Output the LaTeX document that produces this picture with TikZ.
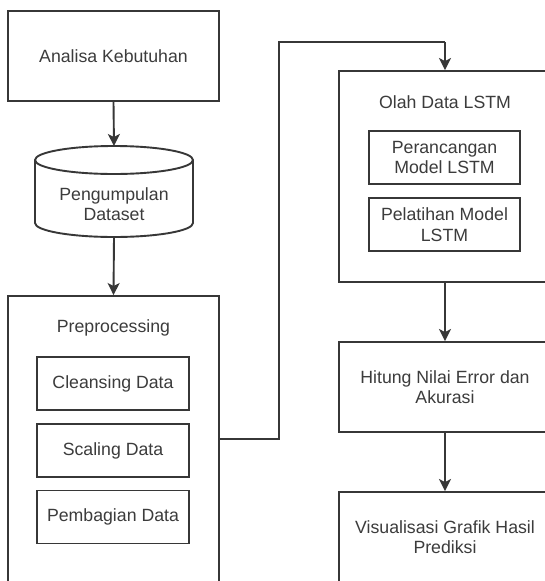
\documentclass[tikz,border=0pt]{standalone}
\usepackage{fontspec}
\setmainfont{Liberation Sans}
\usetikzlibrary{arrows.meta,calc}
\definecolor{ink}{RGB}{55,55,55}
\definecolor{txt}{RGB}{60,60,60}
\tikzset{
  box/.style={draw=ink, line width=1.9pt, fill=white, inner sep=0pt,
              align=center, text=txt},
  outerbox/.style={box, minimum width=211pt},
  innerbox/.style={box, minimum width=152pt, minimum height=53pt},
  lbl/.style={text=txt, inner sep=0pt, align=center},
  flow/.style={draw=ink, line width=1.9pt,
               -{Stealth[length=12pt,width=12pt,inset=3pt]}},
  link/.style={draw=ink, line width=1.9pt},
}
\begin{document}
\begin{tikzpicture}[x=1pt, y=-1pt,
  font=\fontsize{17.7}{20.5}\selectfont]
\clip (0,0) rectangle (545,581);
\fill[white] (0,0) rectangle (545,581);

% left column
\node[outerbox, minimum height=90pt] (ana) at (113.5,56) {Analisa Kebutuhan};

% data store drawn as a cylinder (y axis points down, so angle 90 is the lower side)
\coordinate (cylTop) at (114,146);
\coordinate (cylBot) at (114,237);
\draw[ink, line width=1.9pt, fill=white]
  (35,160) -- (35,223) arc[start angle=180, end angle=0, x radius=79, y radius=14]
  -- (193,160) arc[start angle=0, end angle=-180, x radius=79, y radius=14] -- cycle;
\draw[ink, line width=1.9pt]
  (35,160) arc[start angle=180, end angle=0, x radius=79, y radius=14];
\node[lbl] (dataset) at (114,204) {Pengumpulan\\Dataset};

\node[outerbox, minimum height=286pt] (prep) at (113.5,439) {};
\node[lbl] (preplbl) at (113.5,328) {Preprocessing};
\node[innerbox] (clean) at (113,383.5) {Cleansing Data};
\node[innerbox] (scal)  at (113,450.5) {Scaling Data};
\node[innerbox] (pemb)  at (113,517) {Pembagian Data};

% right column
\node[outerbox, minimum width=212pt, minimum height=211pt] (olah) at (445,176.5) {};
\node[lbl] (olahlbl) at (445,102) {Olah Data LSTM};
\node[innerbox, minimum width=151pt] (peran) at (444.5,157.5) {Perancangan\\Model LSTM};
\node[innerbox, minimum width=151pt] (pelat) at (444.5,224.5) {Pelatihan Model\\LSTM};

\node[outerbox, minimum width=212pt, minimum height=90pt] (hitung) at (445,387)
  {Hitung Nilai Error dan\\Akurasi};
\node[outerbox, minimum width=212pt, minimum height=90pt] (visual) at (445,537)
  {Visualisasi Grafik Hasil\\Prediksi};

% connectors
\draw[flow] (ana.south) -- (cylTop);
\draw[flow] (cylBot) -- (prep.north);
\coordinate (bendA) at (279,42);
\draw[link] (prep.east) -| (bendA) -- (bendA -| olah.north);
\draw[flow] (bendA -| olah.north) -- (olah.north);
\draw[flow] (olah.south) -- (hitung.north);
\draw[flow] (hitung.south) -- (visual.north);
\end{tikzpicture}
\end{document}
